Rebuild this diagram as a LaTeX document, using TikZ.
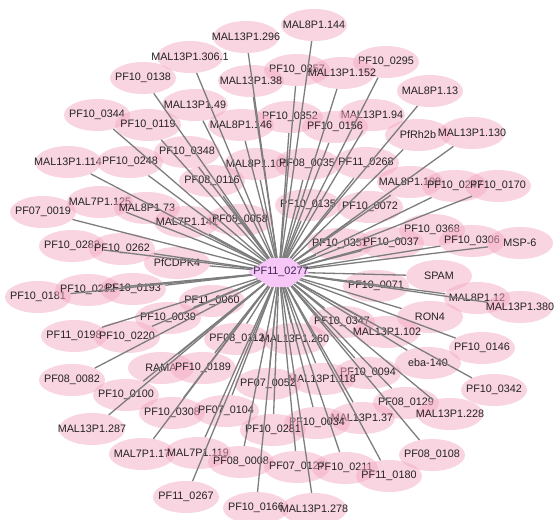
\documentclass[tikz,border=0pt]{standalone}
\usepackage{fontspec}
\setmainfont{Liberation Sans}
\usetikzlibrary{shapes.geometric}
\pgfdeclarelayer{background}
\pgfdeclarelayer{foreground}
\pgfsetlayers{background,main,foreground}
\definecolor{pk}{RGB}{244,170,195}
\definecolor{edgegray}{RGB}{125,125,125}
\definecolor{hubfill}{RGB}{247,200,247}
\definecolor{hubtext}{RGB}{60,35,80}
\definecolor{lbl}{RGB}{35,35,35}
\tikzset{
  nd/.style={ellipse, fill=pk, fill opacity=0.5, draw=none, minimum width=66pt, minimum height=32pt, inner sep=0pt},
  every label/.style={text=lbl, text opacity=1, fill opacity=0, font=\fontsize{10.8}{12}\selectfont, inner sep=0pt},
  hubshape/.style={fill=hubfill, draw=none},
  edge/.style={draw=edgegray, line width=1.3pt}
}
\begin{document}
\begin{tikzpicture}[x=1pt,y=-1pt]
\useasboundingbox (0,0) rectangle (555,520);
\begin{pgfonlayer}{background}
\node[nd, label=center:{MAL8P1.144}] (a1) at (314,25) {};
\node[nd, label=center:{MAL13P1.296}] (a2) at (246,37) {};
\node[nd, label=center:{MAL13P1.306.1}] (a3) at (190,57) {};
\node[nd, label=center:{PF10\_0295}] (a7) at (386,62) {};
\node[nd, label=center:{PF10\_0357}] (a4) at (297,70) {};
\node[nd, label=center:{MAL13P1.152}] (a6) at (342,73) {};
\node[nd, label=center:{PF10\_0138}] (a9) at (143,78) {};
\node[nd, label=center:{MAL13P1.38}] (a5) at (251,81) {};
\node[nd, label=center:{MAL8P1.13}] (a8) at (430,91) {};
\node[nd, label=center:{MAL13P1.49}] (a10) at (195,105) {};
\node[nd, label=center:{PF10\_0344}] (a11) at (97,115) {};
\node[nd, label=center:{MAL13P1.94}] (a16) at (372,115) {};
\node[nd, label=center:{PF10\_0352}] (a14) at (290,117) {};
\node[nd, label=center:{PF10\_0119}] (a12) at (148,125) {};
\node[nd, label=center:{MAL8P1.146}] (a13) at (241,125) {};
\node[nd, label=center:{PF10\_0156}] (a15) at (335,127) {};
\node[nd, label=center:{PfRh2b}] (a17) at (418,135) {};
\node[nd, label=center:{MAL13P1.130}] (a18) at (472,133) {};
\node[nd, label=center:{PF10\_0348}] (a21) at (187,152) {};
\node[nd, label=center:{MAL13P1.114}] (a19) at (68,162) {};
\node[nd, label=center:{PF10\_0248}] (a20) at (130,162) {};
\node[nd, label=center:{MAL8P1.106}] (a22) at (257,164) {};
\node[nd, label=center:{PF08\_0035}] (a23) at (307,164) {};
\node[nd, label=center:{PF11\_0268}] (a24) at (366,163) {};
\node[nd, label=center:{PF08\_0116}] (a25) at (212,181) {};
\node[nd, label=center:{MAL8P1.109}] (a26) at (410,182) {};
\node[nd, label=center:{PF10\_0247}] (a27) at (455,186) {};
\node[nd, label=center:{PF10\_0170}] (a28) at (498,186) {};
\node[nd, label=center:{PF07\_0019}] (a31) at (43,212) {};
\node[nd, label=center:{MAL7P1.125}] (a29) at (100,202) {};
\node[nd, label=center:{MAL8P1.73}] (a30) at (147,208) {};
\node[nd, label=center:{PF10\_0135}] (a34) at (308,205) {};
\node[nd, label=center:{PF10\_0072}] (a35) at (370,207) {};
\node[nd, label=center:{MAL7P1.141}] (a32) at (187,222) {};
\node[nd, label=center:{PF08\_0058}] (a33) at (240,220) {};
\node[nd, label=center:{PF10\_0368}] (a36) at (432,230) {};
\node[nd, label=center:{PF10\_0282}] (a37) at (72,246) {};
\node[nd, label=center:{PF10\_0262}] (a38) at (122,249) {};
\node[nd, label=center:{PF10\_0351}] (a40) at (340,244) {};
\node[nd, label=center:{PF10\_0037}] (a41) at (391,243) {};
\node[nd, label=center:{PF10\_0306}] (a42) at (472,241) {};
\node[nd, label=center:{MSP-6}] (a43) at (520,243) {};
\node[nd, label=center:{PfCDPK4}] (a39) at (177,263) {};
\node[nd, label=center:{SPAM}] (a44) at (439,276) {};
\node[nd, label=center:{PF10\_0071}] (a45) at (376,286) {};
\node[nd, label=center:{PF10\_0181}] (a48) at (38,297) {};
\node[nd, label=center:{PF10\_0292}] (a49) at (88,290) {};
\node[nd, label=center:{PF10\_0193}] (a50) at (133,289) {};
\node[nd, label=center:{MAL8P1.12}] (a46) at (477,298) {};
\node[nd, label=center:{MAL13P1.380}] (a47) at (520,307) {};
\node[nd, label=center:{PF11\_0060}] (a51) at (212,301) {};
\node[nd, label=center:{PF10\_0039}] (a52) at (168,318) {};
\node[nd, label=center:{RON4}] (a55) at (430,317) {};
\node[nd, label=center:{PF10\_0347}] (a56) at (342,322) {};
\node[nd, label=center:{PF11\_0198}] (a53) at (74,336) {};
\node[nd, label=center:{PF10\_0220}] (a54) at (127,337) {};
\node[nd, label=center:{MAL13P1.102}] (a57) at (387,332) {};
\node[nd, label=center:{PF08\_0112}] (a58) at (237,339) {};
\node[nd, label=center:{MAL13P1.260}] (a59) at (295,339) {};
\node[nd, label=center:{PF10\_0146}] (a60) at (482,348) {};
\node[nd, label=center:{eba-140}] (a61) at (428,363) {};
\node[nd, label=center:{RAMA}] (a62) at (161,368) {};
\node[nd, label=center:{PF10\_0189}] (a63) at (203,368) {};
\node[nd, label=center:{PF10\_0094}] (a64) at (368,373) {};
\node[nd, label=center:{MAL13P1.118}] (a65) at (322,379) {};
\node[nd, label=center:{PF07\_0052}] (a66) at (268,384) {};
\node[nd, label=center:{PF08\_0082}] (a67) at (72,380) {};
\node[nd, label=center:{PF10\_0100}] (a68) at (126,395) {};
\node[nd, label=center:{PF10\_0342}] (a69) at (494,390) {};
\node[nd, label=center:{PF08\_0129}] (a70) at (406,403) {};
\node[nd, label=center:{MAL13P1.228}] (a71) at (450,414) {};
\node[nd, label=center:{PF10\_0308}] (a72) at (172,413) {};
\node[nd, label=center:{PF07\_0104}] (a73) at (226,411) {};
\node[nd, label=center:{MAL13P1.37}] (a74) at (362,418) {};
\node[nd, label=center:{PF10\_0034}] (a75) at (317,423) {};
\node[nd, label=center:{PF10\_0281}] (a76) at (273,430) {};
\node[nd, label=center:{MAL13P1.287}] (a77) at (92,429) {};
\node[nd, label=center:{MAL7P1.17}] (a78) at (142,454) {};
\node[nd, label=center:{MAL7P1.119}] (a79) at (198,453) {};
\node[nd, label=center:{PF08\_0108}] (a84) at (432,455) {};
\node[nd, label=center:{PF08\_0008}] (a80) at (241,462) {};
\node[nd, label=center:{PF07\_0127}] (a81) at (297,467) {};
\node[nd, label=center:{PF10\_0211}] (a82) at (345,468) {};
\node[nd, label=center:{PF11\_0180}] (a83) at (389,476) {};
\node[nd, label=center:{PF11\_0267}] (a85) at (186,497) {};
\node[nd, label=center:{PF10\_0166}] (a86) at (256,508) {};
\node[nd, label=center:{MAL13P1.278}] (a87) at (314,509) {};
\end{pgfonlayer}
\coordinate (hub) at (279,272);
\foreach \i in {1,...,87} {\draw[edge] (a\i) -- (hub.center);}
\begin{pgfonlayer}{foreground}
\fill[hubshape] (248,272) -- (270,258) -- (290,258) -- (309,272) -- (290,287) -- (270,287) -- cycle;
\node[text=hubtext, font=\fontsize{10.8}{12}\selectfont, inner sep=0pt] (hublabel) at (281,272) {PF11\_0277};
\end{pgfonlayer}
\end{tikzpicture}
\end{document}
